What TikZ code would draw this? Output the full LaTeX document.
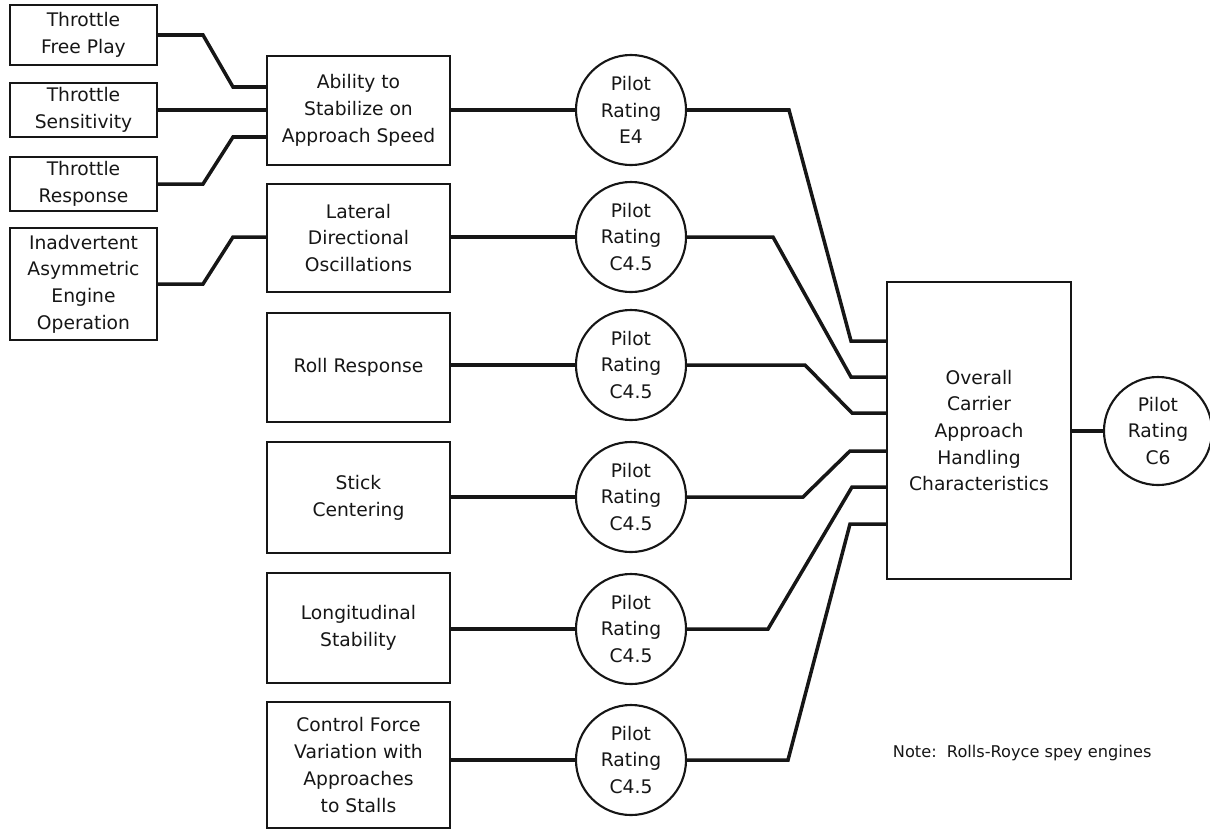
\documentclass[tikz,border=0pt]{standalone}
\usepackage{fontspec}
\setmainfont{DejaVu Sans}
\usepackage{xcolor}
\usepackage{tikz}
\definecolor{inkblack}{RGB}{22, 22, 22}

\begin{document}
\begin{tikzpicture}[x=0.025cm, y=-0.025cm,
	every node/.style={font=\fontsize{13.3}{19}\selectfont, text=inkblack},
	factor/.style={draw=inkblack, line width=1.5pt, align=center, inner sep=0pt},
	rating/.style={draw=inkblack, line width=1.5pt, circle, minimum size=2.75cm, inner sep=0pt, align=center},
	wire/.style={draw=inkblack, line width=2.5pt}]
\useasboundingbox (0,0) rectangle (1210,831);

\node[factor, minimum width=3.675cm, minimum height=1.5cm] (tfp) at (83.5,35) {Throttle\\Free Play};
\node[factor, minimum width=3.675cm, minimum height=1.35cm] (tsen) at (83.5,110) {Throttle\\Sensitivity};
\node[factor, minimum width=3.675cm, minimum height=1.35cm] (tresp) at (83.5,184) {Throttle\\Response};
\node[factor, minimum width=3.675cm, minimum height=2.8cm] (inadv) at (83.5,284) {Inadvertent\\Asymmetric\\Engine\\Operation};

\foreach \n/\y/\h/\txt in {abil/110.5/2.725/{Ability to\\Stabilize on\\Approach Speed},
		lat/238/2.7/{Lateral\\Directional\\Oscillations},
		roll/367.5/2.725/{Roll Response},
		stick/497.5/2.775/{Stick\\Centering},
		long/628/2.75/{Longitudinal\\Stability},
		ctrl/765/3.15/{Control Force\\Variation with\\Approaches\\to Stalls}} {
	\node[factor, minimum width=4.575cm, minimum height=\h cm] (\n) at (358.5,\y) {\txt};
}
\foreach \n/\y/\r in {abil/110/E4, lat/237/C4.5, roll/365/C4.5, stick/497/C4.5, long/629/C4.5, ctrl/760/C4.5} {
	\node[rating] (r\n) at (631,\y) {Pilot\\Rating\\\r};
	\draw[wire] (\n.east |- r\n.west) -- (r\n.west);
}

\node[factor, minimum width=4.6cm, minimum height=7.425cm] (ovr) at (979,430.5) {Overall\\Carrier\\Approach\\Handling\\Characteristics};
\node[rating, minimum size=2.7cm] (rc6) at (1158,431) {Pilot\\Rating\\C6};
\draw[wire] (ovr.east |- rc6.west) -- (rc6.west);

\draw[wire] (tfp.east) -- (203,35) -- (233,87) -- (abil.west |- 0,87);
\draw[wire] (tsen.east) -- (abil.west |- tsen.east);
\draw[wire] (tresp.east) -- (203,184) -- (233,137) -- (abil.west |- 0,137);
\draw[wire] (inadv.east) -- (203,284) -- (233,237) -- (lat.west |- 0,237);

\foreach \n/\kx/\ix/\iy in {abil/789/851/341, lat/773/851/377, roll/805/852/413, stick/803/850/451, long/768/852/487, ctrl/788/850/524} {
	\draw[wire] (r\n.east) -- (\kx,0 |- r\n.east) -- (\ix,\iy) -- (ovr.west |- 0,\iy);
}

\node[font=\fontsize{11.5}{14}\selectfont, anchor=base west] (note) at (888,757) {Note:\ \ Rolls-Royce spey engines};
\end{tikzpicture}
\end{document}
